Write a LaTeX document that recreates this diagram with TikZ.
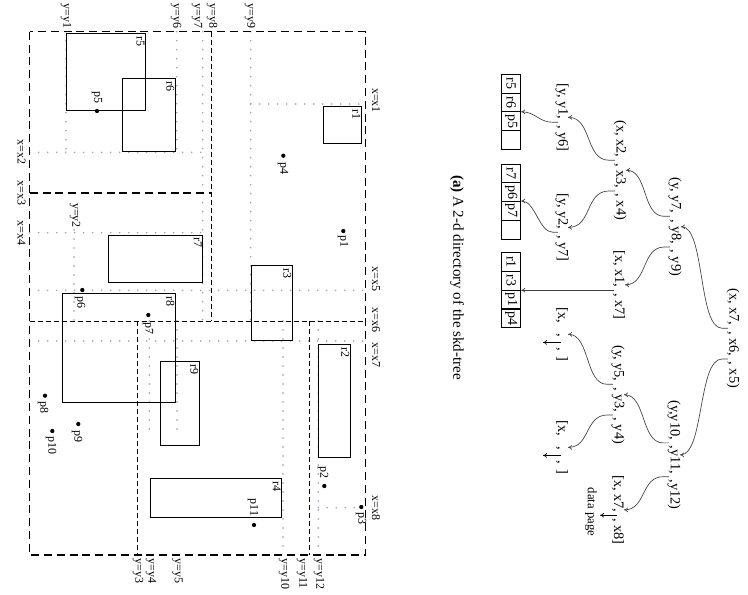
\documentclass[tikz,border=0pt]{standalone}
\usepackage{fontspec}
\setmainfont{Liberation Serif}
\usetikzlibrary{calc,arrows.meta}
\begin{document}
\begin{tikzpicture}[x=0.75pt,y=-0.75pt,
  rect/.style={draw=black, line width=0.6pt},
  outer/.style={draw=black, line width=0.8pt, dash pattern=on 6pt off 3.6pt},
  inner/.style={draw=black, line width=0.7pt, dash pattern=on 3.6pt off 2.4pt},
  split/.style={draw={rgb,255:red,150;green,150;blue,175}, line width=1.25pt, line cap=round, dash pattern=on 0pt off 6.75pt},
  lab/.style={rotate=-90, inner sep=0pt, font=\fontsize{9}{10}\selectfont},
  rlab/.style={rotate=-90, anchor=north west, inner xsep=2pt, inner ysep=0.5pt, font=\fontsize{9}{10}\selectfont},
  dotpt/.style={circle, fill=black, inner sep=0pt, minimum size=3.2pt},
  tt/.style={rotate=-90, anchor=west, inner sep=0pt, font=\fontsize{10.8}{12}\selectfont},
  ptr/.style={draw=black!75, line width=0.5pt, -{To[length=3pt,width=3.5pt]}},
  cell/.style={draw, line width=0.7pt, rotate=-90, minimum width=14.06pt, minimum height=14.25pt, inner sep=0pt, font=\fontsize{10.5}{12}\selectfont},
]
\useasboundingbox (0,0) rectangle (748,594);

% ---------- split lines (dotted) ----------
\draw[split] (66,31.7) -- (66,152);      % y1
\draw[split] (176.7,31.7) -- (176.7,152); % y6
\draw[split] (202.7,31.7) -- (202.7,321); % y7
\draw[split] (250.7,31.7) -- (250.7,321); % y9
\draw[split] (74,230) -- (74,321);        % y2
\draw[split] (149.3,321) -- (149.3,435);  % y4
\draw[split] (177,321) -- (177,435);      % y5
\draw[split] (283,321) -- (283,555);      % y10
\draw[split] (318.3,321) -- (318.3,555);  % y12
\draw[split] (250.7,104) -- (365.7,104);  % x1
\draw[split] (29.7,152.3) -- (202.7,152.3); % x2
\draw[split] (29.7,232.7) -- (202.7,232.7); % x4
\draw[split] (29.7,290.3) -- (365.7,290.3); % x5
\draw[split] (29.7,341) -- (365.7,341);   % x7
\draw[split] (318.3,507.7) -- (357,507.7); % x8

% ---------- dashed directory regions ----------
\draw[outer] (29.7,31.7) rectangle (365.7,555);
\draw[outer] (29.7,193) -- (211,193);
\draw[inner] (211,31.7) -- (211,321);
\draw[inner] (29.7,321) -- (365.7,321);
\draw[inner] (137.7,321) -- (137.7,555);
\draw[inner] (309.5,321) -- (309.5,555);

% ---------- rectangles ----------
\draw[rect] (66.3,33.3) rectangle (145.3,110);
\draw[rect] (122.7,78.3) rectangle (175.3,151);
\draw[rect] (108.3,235) rectangle (202.7,282);
\draw[rect] (62.3,293.3) rectangle (175.3,402.3);
\draw[rect] (160.3,361.3) rectangle (199.3,445);
\draw[rect] (150.3,478.3) rectangle (281.7,517.3);
\draw[rect] (323.3,106.3) rectangle (361.3,143.3);
\draw[rect] (251.3,265.3) rectangle (292.3,340.3);
\draw[rect] (318.3,344.3) rectangle (350.3,457.3);
\node[rlab] (lr5) at (145.3,33.3) {r5};
\node[rlab] (lr6) at (175.3,78.3) {r6};
\node[rlab] (lr7) at (202.7,235) {r7};
\node[rlab] (lr8) at (175.3,293.3) {r8};
\node[rlab] (lr9) at (199.3,361.3) {r9};
\node[rlab] (lr4) at (281.7,478.3) {r4};
\node[rlab] (lr1) at (361.3,106.3) {r1};
\node[rlab] (lr3) at (292.3,265.3) {r3};
\node[rlab] (lr2) at (350.3,344.3) {r2};

% ---------- points ----------
\node[dotpt] (p1) at (343.3,231) {};  \node[lab] (lp1) at (343,241.5) {p1};
\node[dotpt] (p2) at (324.3,486) {};  \node[lab] (lp2) at (323,472.5) {p2};
\node[dotpt] (p3) at (361.3,507) {};  \node[lab] (lp3) at (361,518.5) {p3};
\node[dotpt] (p4) at (283.3,155.7) {}; \node[lab] (lp4) at (283,168) {p4};
\node[dotpt] (p5) at (97,111) {};     \node[lab] (lp5) at (97,97) {p5};
\node[dotpt] (p6) at (82.3,290) {};   \node[lab] (lp6) at (80,302.5) {p6};
\node[dotpt] (p7) at (148.3,315) {};  \node[lab] (lp7) at (148,328.5) {p7};
\node[dotpt] (p8) at (45,395.7) {};   \node[lab] (lp8) at (43,407.5) {p8};
\node[dotpt] (p9) at (78.3,424) {};   \node[lab] (lp9) at (77,436) {p9};
\node[dotpt] (p10) at (52.3,431) {};  \node[lab] (lp10) at (51,445.5) {p10};
\node[dotpt] (p11) at (254,525) {};   \node[lab] (lp11) at (253,507.5) {p11};

% ---------- split labels ----------
\node[lab,anchor=east] (ly1) at (66,28.5) {y=y1};
\node[lab,anchor=east] (ly6) at (176,28.5) {y=y6};
\node[lab,anchor=east] (ly7) at (197,28.5) {y=y7};
\node[lab,anchor=east] (ly8) at (212,28.5) {y=y8};
\node[lab,anchor=east] (ly9) at (250,28.5) {y=y9};
\node[lab,anchor=west] (ly3) at (138,558) {y=y3};
\node[lab,anchor=west] (ly4) at (151,558) {y=y4};
\node[lab,anchor=west] (ly5) at (177.5,558) {y=y5};
\node[lab,anchor=west] (ly10) at (284,558) {y=y10};
\node[lab,anchor=west] (ly11) at (302,558) {y=y11};
\node[lab,anchor=west] (ly12) at (319,558) {y=y12};
\node[lab] (ly2) at (75,215.5) {y=y2};
\node[lab] (lx1) at (376,100.5) {x=x1};
\node[lab] (lx5) at (376,279) {x=x5};
\node[lab] (lx6) at (376,320) {x=x6};
\node[lab] (lx7) at (376,355) {x=x7};
\node[lab] (lx8) at (376,508) {x=x8};
\node[lab] (lx2) at (21.5,152) {x=x2};
\node[lab] (lx3) at (21.5,193) {x=x3};
\node[lab] (lx4) at (21.5,233) {x=x4};

% ---------- caption ----------
\node[rotate=-90, inner sep=0pt, font=\fontsize{11.3}{13}\selectfont] (cap) at (457,277.5) {\textbf{(a)} A 2-d directory of the skd-tree};

% ---------- directory tree ----------
% T1 root
\node[tt] (t1a) at (733,288) {(x, x7,};
\coordinate (t1s1) at ($(t1a.east)+(0,2.5)$);
\node[tt] (t1b) at ($(t1s1)+(0,2.5)$) {, x6,};
\coordinate (t1s2) at ($(t1b.east)+(0,2.5)$);
\node[tt] (t1c) at ($(t1s2)+(0,2.5)$) {, x5)};
\coordinate (t1m) at ($(t1a.west)!0.5!(t1c.east)$);
% T2
\node[tt] (t2a) at (675,177) {(y, y7,};
\coordinate (t2s1) at ($(t2a.east)+(0,2.5)$);
\node[tt] (t2b) at ($(t2s1)+(0,2.5)$) {, y8,};
\coordinate (t2s2) at ($(t2b.east)+(0,2.5)$);
\node[tt] (t2c) at ($(t2s2)+(0,2.5)$) {, y9)};
\coordinate (t2m) at ($(t2a.west)!0.5!(t2c.east)$);
% T3
\node[tt] (t3a) at (674,400) {(y,y10,};
\coordinate (t3s1) at ($(t3a.east)+(0,2.5)$);
\node[tt] (t3b) at ($(t3s1)+(0,2.5)$) {,y11,};
\coordinate (t3s2) at ($(t3b.east)+(0,2.5)$);
\node[tt] (t3c) at ($(t3s2)+(0,2.5)$) {,y12)};
\coordinate (t3m) at ($(t3a.west)!0.5!(t3c.east)$);
% T4
\node[tt] (t4a) at (620,120) {(x, x2,};
\coordinate (t4s1) at ($(t4a.east)+(0,2.5)$);
\node[tt] (t4b) at ($(t4s1)+(0,2.5)$) {, x3,};
\coordinate (t4s2) at ($(t4b.east)+(0,2.5)$);
\node[tt] (t4c) at ($(t4s2)+(0,2.5)$) {, x4)};
\coordinate (t4m) at ($(t4a.west)!0.5!(t4c.east)$);
% T5
\node[tt] (t5a) at (619,250) {[x, x1,};
\coordinate (t5s1) at ($(t5a.east)+(0,2.5)$);
\node[tt] (t5b) at ($(t5s1)+(0,2.5)$) {, x7]};
\coordinate (t5m) at ($(t5a.west)!0.5!(t5b.east)$);
% T6
\node[tt] (t6a) at (618,345) {(y, y5,};
\coordinate (t6s1) at ($(t6a.east)+(0,2.5)$);
\node[tt] (t6b) at ($(t6s1)+(0,2.5)$) {, y3,};
\coordinate (t6s2) at ($(t6b.east)+(0,2.5)$);
\node[tt] (t6c) at ($(t6s2)+(0,2.5)$) {, y4)};
\coordinate (t6m) at ($(t6a.west)!0.5!(t6c.east)$);
% T7
\node[tt] (t7a) at (618,475) {[x, x7,};
\coordinate (t7s1) at ($(t7a.east)+(0,2.5)$);
\node[tt] (t7b) at ($(t7s1)+(0,2.5)$) {, x8]};
\coordinate (t7m) at ($(t7a.west)!0.5!(t7b.east)$);
% T8
\node[tt] (t8a) at (562,83) {[y, y1,};
\coordinate (t8s1) at ($(t8a.east)+(0,2.5)$);
\node[tt] (t8b) at ($(t8s1)+(0,2.5)$) {, y6]};
\coordinate (t8m) at ($(t8a.west)!0.5!(t8b.east)$);
% T9
\node[tt] (t9a) at (562,193) {[y, y2,};
\coordinate (t9s1) at ($(t9a.east)+(0,2.5)$);
\node[tt] (t9b) at ($(t9s1)+(0,2.5)$) {, y7]};
\coordinate (t9m) at ($(t9a.west)!0.5!(t9b.east)$);
% T10
\node[tt] (t10a) at (562,307) {[x,\hspace{8pt},};
\coordinate (t10s1) at ($(t10a.east)+(0,5)$);
\node[tt] (t10b) at ($(t10s1)+(0,5)$) {,\hspace{4pt}]};
\coordinate (t10m) at ($(t10a.west)!0.5!(t10b.east)$);
% T11
\node[tt] (t11a) at (562,420) {[x,\hspace{8pt},};
\coordinate (t11s1) at ($(t11a.east)+(0,5)$);
\node[tt] (t11b) at ($(t11s1)+(0,5)$) {,\hspace{4pt}]};
\coordinate (t11m) at ($(t11a.west)!0.5!(t11b.east)$);

% data page boxes
\node[cell] (b1c1) at (511.2,83.7) {r5};
\node[cell] (b1c2) at (511.2,102.4) {r6};
\node[cell] (b1c3) at (511.2,121.2) {p5};
\node[cell] (b1c4) at (511.2,139.9) {};
\node[cell] (b2c1) at (511.2,173.4) {r7};
\node[cell] (b2c2) at (511.2,192.1) {p6};
\node[cell] (b2c3) at (511.2,210.9) {p7};
\node[cell] (b2c4) at (511.2,229.6) {};
\node[cell] (b3c1) at (511.2,262.1) {r1};
\node[cell] (b3c2) at (511.2,280.8) {r3};
\node[cell] (b3c3) at (511.2,299.6) {p1};
\node[cell] (b3c4) at (511.2,318.3) {p4};
\coordinate (b1in) at (521.2,111.8);
\coordinate (b2in) at (521.2,201);
\coordinate (b3in) at (521.2,290.2);

% pointers
\draw[ptr] ($(t1s1)+(-5,0)$) -- ++(-6,0) .. controls +(-24,0) and +(24,0) .. ($(t2m)+(6,0)$);
\draw[ptr] ($(t1s2)+(-5,0)$) -- ++(-6,0) .. controls +(-24,0) and +(24,0) .. ($(t3m)+(6,0)$);
\draw[ptr] ($(t2s1)+(-5,0)$) -- ++(-6,0) .. controls +(-22,0) and +(22,0) .. ($(t4m)+(6,0)$);
\draw[ptr] ($(t2s2)+(-5,0)$) -- ++(-6,0) .. controls +(-22,0) and +(22,0) .. ($(t5m)+(6,0)$);
\draw[ptr] ($(t3s1)+(-5,0)$) -- ++(-6,0) .. controls +(-22,0) and +(22,0) .. ($(t6m)+(6,0)$);
\draw[ptr] ($(t3s2)+(-5,0)$) -- ++(-6,0) .. controls +(-22,0) and +(22,0) .. ($(t7m)+(6,0)$);
\draw[ptr] ($(t4s1)+(-5,0)$) -- ++(-6,0) .. controls +(-24,0) and +(24,0) .. ($(t8m)+(6,0)$);
\draw[ptr] ($(t4s2)+(-5,0)$) -- ++(-6,0) .. controls +(-24,0) and +(24,0) .. ($(t9m)+(6,0)$);
\draw[ptr] ($(t6s1)+(-5,0)$) -- ++(-6,0) .. controls +(-22,0) and +(22,0) .. ($(t10m)+(6,0)$);
\draw[ptr] ($(t6s2)+(-5,0)$) -- ++(-6,0) .. controls +(-22,0) and +(22,0) .. ($(t11m)+(6,0)$);
\draw[ptr] ($(t8s1)+(-4,0)$) -- ++(-5,0) .. controls +(-14,0) and +(14,0) .. (b1in);
\draw[ptr] ($(t9s1)+(-4,0)$) -- ++(-5,0) .. controls +(-14,0) and +(14,0) .. (b2in);
\coordinate (t5p) at ($(t5s1)+(-5,0)$);
\draw[ptr] (t5p) -- (t5p -| b3in);
\draw[ptr,draw=black] ($(t10s1)+(-1,0)$) -- ++(-18,0);
\draw[ptr,draw=black] ($(t11s1)+(-1,0)$) -- ++(-18,0);
\draw[ptr,draw=black] ($(t7s1)+(-1,0)$) -- ++(-17,0);
\node[rotate=-90, inner sep=0pt, font=\fontsize{9.5}{11}\selectfont] (dp) at (591,512) {data page};
\end{tikzpicture}
\end{document}
